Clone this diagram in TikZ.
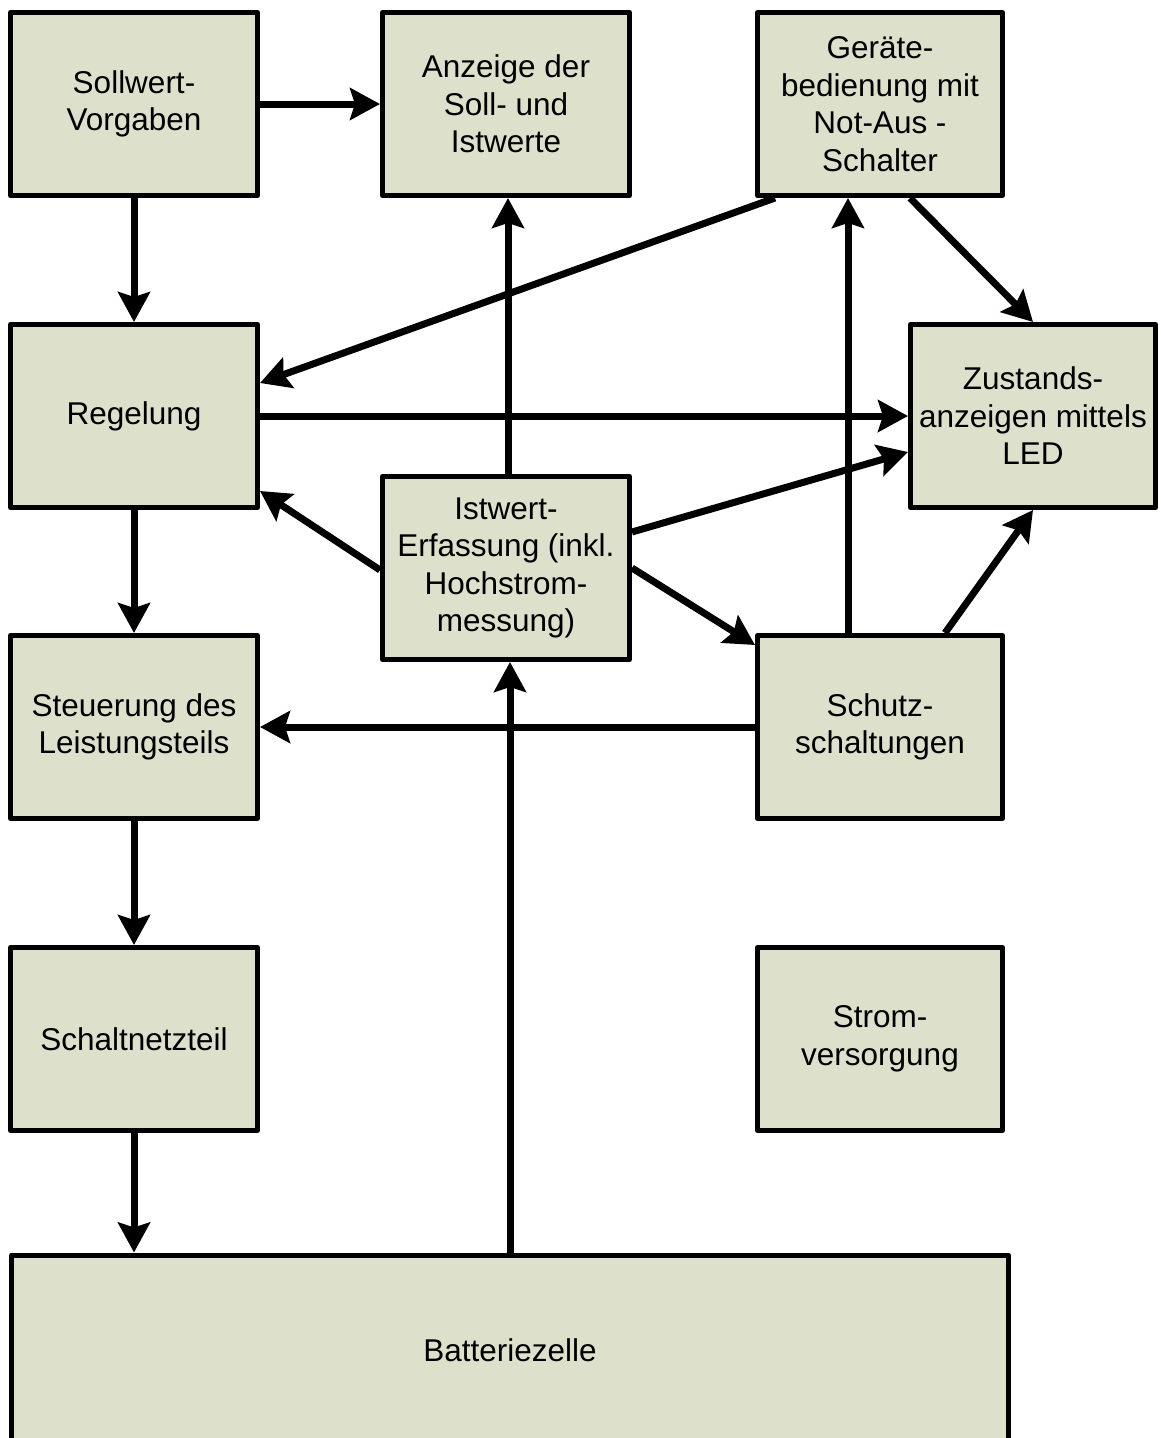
\documentclass[tikz,border=0pt]{standalone}
\usepackage{fontspec}
\setmainfont{Liberation Sans}
\usetikzlibrary{arrows.meta,calc}
\definecolor{boxfill}{RGB}{221,225,204}
\begin{document}
\begin{tikzpicture}[x=1pt,y=-1pt,
  blk/.style={draw=black,line width=5pt,fill=boxfill,minimum width=247pt,minimum height=183pt,
    align=center,inner sep=0pt,font=\fontsize{31.5}{37.5}\selectfont,line join=round},
  conn/.style={line width=7pt,-{Stealth[length=30pt,width=32pt,inset=5pt]}}]
\useasboundingbox (0,0) rectangle (1160,1438);
\node[blk] (soll) at (134,104) {Sollwert-\\Vorgaben};
\node[blk] (anz) at (506,104) {Anzeige der\\Soll- und\\Istwerte};
\node[blk,minimum width=245pt] (ger) at (880,104) {Geräte-\\bedienung mit\\Not-Aus -\\Schalter};
\node[blk] (reg) at (134,416) {Regelung};
\node[blk,minimum width=245pt] (zus) at (1033,416) {Zustands-\\anzeigen mittels\\LED};
\node[blk] (ist) at (506,568) {Istwert-\\Erfassung (inkl.\\Hochstrom-\\messung)};
\node[blk] (steu) at (134,727) {Steuerung des\\Leistungsteils};
\node[blk,minimum width=245pt] (schutz) at (880,727) {Schutz-\\schaltungen};
\node[blk] (snt) at (134,1039) {Schaltnetzteil};
\node[blk,minimum width=245pt] (strom) at (880,1039) {Strom-\\versorgung};
\node[blk,minimum width=997pt,minimum height=190pt] (bat) at (510,1350) {Batteriezelle};
\draw[conn] (soll.east) -- (anz.west);
\draw[conn] (soll.south) -- (reg.north);
\draw[conn] ($(ger.south)+(-105,0)$) -- ($(reg.east)+(0,-33)$);
\draw[conn] ($(ger.south)+(30,0)$) -- (zus.north);
\draw[conn] ($(schutz.north)+(-32,0)$) -- ($(ger.south)+(-32,0)$);
\draw[conn] (reg.east) -- (zus.west);
\draw[conn] ($(ist.north)+(2,0)$) -- ($(anz.south)+(2,0)$);
\draw[conn] ($(ist.west)+(0,2)$) -- ($(reg.east)+(0,75)$);
\draw[conn] ($(ist.east)+(0,-36)$) -- ($(zus.west)+(0,36)$);
\draw[conn] (ist.east) -- ($(schutz.west)+(0,-82)$);
\draw[conn] ($(schutz.north)+(65,0)$) -- (zus.south);
\draw[conn] (reg.south) -- (steu.north);
\draw[conn] (schutz.west) -- (steu.east);
\draw[conn] (steu.south) -- (snt.north);
\draw[conn] (snt.south) -- (snt.south |- bat.north);
\draw[conn] (bat.north) -- ($(ist.south)+(4,0)$);
\end{tikzpicture}
\end{document}
